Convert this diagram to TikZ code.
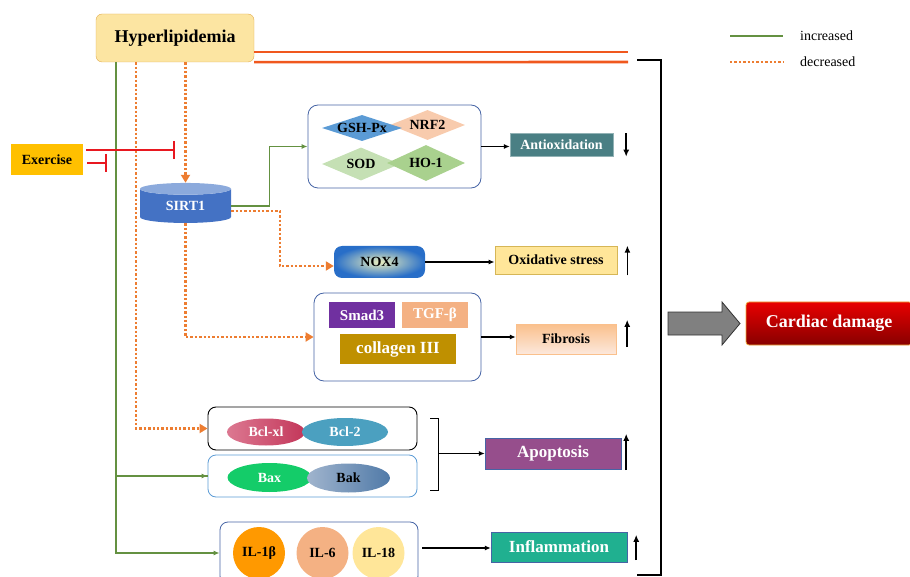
\documentclass[tikz,border=0pt]{standalone}
\usepackage{fontspec}
\setmainfont{Liberation Serif}
\usetikzlibrary{arrows.meta,shapes.geometric,calc,positioning}
\definecolor{incgreen}{RGB}{100,145,65}
\definecolor{decorange}{RGB}{237,125,49}
\definecolor{hyperfill}{RGB}{252,229,162}
\definecolor{hyperdraw}{RGB}{226,172,80}
\definecolor{hyperline}{RGB}{240,88,30}
\definecolor{exgold}{RGB}{255,192,0}
\definecolor{inhred}{RGB}{232,24,32}
\definecolor{sirtblue}{RGB}{68,114,196}
\definecolor{sirttop}{RGB}{140,170,220}
\definecolor{groupblue}{RGB}{70,100,165}
\definecolor{gshblue}{RGB}{91,155,213}
\definecolor{nrfpeach}{RGB}{248,203,173}
\definecolor{sodgreen}{RGB}{197,224,180}
\definecolor{hogreen}{RGB}{169,209,142}
\definecolor{antiteal}{RGB}{74,127,132}
\definecolor{oxyellow}{RGB}{255,230,153}
\definecolor{oxdraw}{RGB}{214,182,86}
\definecolor{smadpurple}{RGB}{112,48,160}
\definecolor{tgfpeach}{RGB}{244,177,131}
\definecolor{colgold}{RGB}{191,144,0}
\definecolor{fibtop}{RGB}{250,192,140}
\definecolor{fibbot}{RGB}{252,232,220}
\definecolor{bclpink}{RGB}{220,120,145}
\definecolor{bclred}{RGB}{195,55,90}
\definecolor{bcltwo}{RGB}{75,160,192}
\definecolor{baxgreen}{RGB}{20,204,105}
\definecolor{bakleft}{RGB}{160,180,205}
\definecolor{bakright}{RGB}{80,122,168}
\definecolor{apopurple}{RGB}{150,78,140}
\definecolor{ilorange}{RGB}{255,153,0}
\definecolor{ilsix}{RGB}{244,177,131}
\definecolor{ileighteen}{RGB}{255,230,153}
\definecolor{inflteal}{RGB}{32,176,144}
\definecolor{cardtop}{RGB}{232,0,0}
\definecolor{cardbot}{RGB}{135,0,0}
\definecolor{carddraw}{RGB}{240,170,60}
\definecolor{blockgray}{RGB}{128,128,128}

\begin{document}
\begin{tikzpicture}[x=1pt,y=-1pt,
  every node/.style={font=\fontsize{14}{16}\selectfont\bfseries,inner sep=0pt},
  inc/.style={draw=incgreen,line width=1.3pt},
  dec/.style={draw=decorange,line width=2.4pt,dash pattern=on 2.4pt off 2pt},
  inctip/.style={-{Latex[length=6pt,width=5pt]}},
  dectip/.style={-{Triangle[length=8pt,width=9pt]}},
  inh/.style={draw=inhred,line width=2.6pt,-{Bar[width=18pt]}},
  res/.style={draw=black,line width=1.2pt,-{Latex[length=6pt,width=5pt]}},
  ind/.style={draw=black,line width=1.5pt,-{Latex[length=7pt,width=6pt]}},
  group/.style={draw=groupblue,line width=0.8pt,rounded corners=10pt},
  diam/.style={diamond,minimum width=80pt,minimum height=28pt},
  oval/.style={ellipse,minimum width=84pt,minimum height=28pt},
  ilcirc/.style={circle,minimum size=52pt},
  bigtext/.style={font=\fontsize{17}{19}\selectfont\bfseries}]
\useasboundingbox (0,0) rectangle (910,577);

% top of the pathway
\node[draw=hyperdraw,fill=hyperfill,minimum width=158pt,minimum height=48pt,rounded corners=6pt,font=\fontsize{18}{20}\selectfont\bfseries] (hyper) at (175,38) {Hyperlipidemia};
\node[fill=exgold,minimum width=72pt,minimum height=31pt] (ex) at (47,159.5) {Exercise};
\node[cylinder,shape border rotate=90,aspect=0.3,minimum width=91pt,minimum height=40pt,cylinder uses custom fill,cylinder body fill=sirtblue,cylinder end fill=sirttop,text=white] (sirt) at (185.5,206) {SIRT1};

% antioxidation
\node[group,minimum width=173pt,minimum height=83pt] (gshbox) at (394.5,146.5) {};
\node[diam,fill=nrfpeach,minimum width=75pt,minimum height=30pt,label=center:NRF2] (nrf) at (427.5,125) {};
\node[diam,fill=gshblue,minimum height=26pt,label=center:GSH-Px] (gsh) at (362,128) {};
\node[diam,fill=sodgreen,minimum width=78pt,minimum height=33pt,label=center:SOD] (sod) at (361,164) {};
\node[diam,fill=hogreen,minimum width=78pt,minimum height=36pt,label=center:HO-1] (ho) at (426,163) {};
\node[fill=antiteal,draw=antiteal!60,text=white,minimum width=103pt,minimum height=23pt] (anti) at (561.5,145) {Antioxidation};

% oxidative stress
\node[draw=none,rounded corners=8pt,inner color={rgb,255:red,235;green,240;blue,190},outer color={rgb,255:red,40;green,110;blue,200},minimum width=91pt,minimum height=32pt] (nox) at (379.5,262) {NOX4};
\node[fill=oxyellow,draw=oxdraw,line width=0.8pt,minimum width=122pt,minimum height=28pt] (ox) at (556,260) {Oxidative stress};

% fibrosis
\node[group,minimum width=167pt,minimum height=88pt] (fibbox) at (397.5,337) {};
\node[fill=smadpurple,text=white,minimum width=66pt,minimum height=26pt,font=\fontsize{15}{17}\selectfont\bfseries] (smad) at (362,315) {Smad3};
\node[fill=tgfpeach,text=white,minimum width=66pt,minimum height=26pt,font=\fontsize{15}{17}\selectfont\bfseries] (tgf) at (435,315) {TGF-β};
\node[fill=colgold,text=white,minimum width=116pt,minimum height=30pt,bigtext] (col) at (398,349) {collagen III};
\node[top color=fibtop,bottom color=fibbot,draw=fibtop,minimum width=100pt,minimum height=30pt] (fib) at (566,339) {Fibrosis};

% apoptosis
\node[draw=black,line width=0.9pt,rounded corners=8pt,minimum width=209pt,minimum height=43pt] (bclbox) at (312.5,428.5) {};
\node[group,draw=gshblue,rounded corners=8pt,minimum width=209pt,minimum height=42pt] (baxbox) at (312.5,476) {};
\node[oval,left color=bclpink,right color=bclred,minimum width=78pt,minimum height=27pt,text=white] (bclxl) at (266,432) {Bcl-xl};
\node[oval,fill=bcltwo,minimum width=86pt,text=white] (bcltwo) at (345,432) {Bcl-2};
\node[oval,fill=baxgreen,minimum height=29pt,text=white] (bax) at (269.5,477.5) {Bax};
\node[oval,left color=bakleft,right color=bakright,minimum width=83pt,minimum height=29pt] (bak) at (348.5,478) {Bak};
\node[fill=apopurple,draw=groupblue,text=white,minimum width=136pt,minimum height=31pt,bigtext] (apo) at (553,453.5) {Apoptosis};

% inflammation
\node[group,rounded corners=8pt,minimum width=198pt,minimum height=62pt] (ilbox) at (319,553) {};
\node[ilcirc,fill=ilorange] (ilone) at (259,553) {IL-1β};
\node[ilcirc,fill=ilsix] (ilsix) at (322.5,553) {IL-6};
\node[ilcirc,fill=ileighteen] (ileight) at (378.5,553) {IL-18};
\node[fill=inflteal,draw=groupblue,text=white,minimum width=136pt,minimum height=30pt,bigtext] (infl) at (559,547) {Inflammation};

% outcome
\node[top color=cardtop,bottom color=cardbot,draw=carddraw,line width=0.8pt,rounded corners=3pt,text=white,minimum width=166pt,minimum height=43pt,font=\fontsize{18}{20}\selectfont\bfseries] (card) at (829,323.5) {Cardiac damage};
\fill[blockgray,draw=gray!40!black,line width=0.8pt] (668,312) -- (722,312) -- (722,302) -- (740,323.5) -- (722,345) -- (722,335) -- (668,335) -- cycle;

% legend
\coordinate (legA) at (730,36); \coordinate (legB) at (783,36); \coordinate (legC) at (730,62); \coordinate (legD) at (783,62);
\draw[inc] (legA) -- (legB); \draw[dec] (legC) -- (legD);
\node[font=\fontsize{14}{16}\selectfont,anchor=west] (incr) at (800,36) {increased};
\node[font=\fontsize{14}{16}\selectfont,anchor=west] (decr) at (800,62) {decreased};

% hyperlipidemia lines
\coordinate (trunk) at (116,0); \coordinate (dtrunk) at (136,0);
\coordinate (topend) at (628,52); \coordinate (lowend) at (628,62);
\draw[draw=hyperline,line width=2.6pt] (hyper.east |- topend) -- (topend);
\draw[draw=hyperline,line width=2.6pt] (hyper.south east) -- (lowend);
\draw[inc] (hyper.south -| trunk) |- (baxbox.west); \draw[inc,inctip] (trunk |- baxbox.west) -- (baxbox.west);
\draw[inc,inctip] (hyper.south -| trunk) |- (ilbox.west);
\draw[dec,dectip] (hyper.south -| dtrunk) |- (bclbox.west);
\draw[dec,dectip] (hyper.south -| sirt.north) -- (sirt.north);
\draw[inh] ($(ex.east)+(3,-9.5)$) -- ++(89,0) coordinate (inhsirt);
\draw[inh] ($(ex.east)+(4,3.5)$) -- ++(20,0) coordinate (inhtrunk);

% SIRT1 targets
\draw[inc,inctip] (sirt.east) -| ($(gshbox.west)+(-38,0)$) -- (gshbox.west);
\draw[dec,dectip] ($(sirt.east)+(0,5)$) -| ($(nox.west)+(-54,4)$) -- ($(nox.west)+(0,4)$);
\draw[dec,dectip] (sirt.south) |- (fibbox.west);

% results
\draw[res] (gshbox.east) -- (gshbox.east -| anti.west);
\draw[res] (nox.east) -- (nox.east -| ox.west);
\draw[res] (fibbox.east) -- (fibbox.east -| fib.west);
\draw[line width=1.2pt] ($(bclbox.east)+(13,-10)$) -- ++(8,0) -- ++(0,72) -- ++(-8,0);
\draw[res] (apo.west -| 438,0) -- (apo.west);
\coordinate (ilout) at ($(ilbox.east)+(4,-5)$);
\draw[res] (ilout) -- (ilout -| infl.west);
\draw[ind] ([xshift=13pt]anti.north east) -- ([xshift=13pt]anti.south east);
\draw[ind] ([xshift=10pt,yshift=-1pt]ox.south east) -- ([xshift=10pt]ox.north east);
\draw[ind] ([xshift=11pt,yshift=7pt]fib.south east) -- ([xshift=11pt,yshift=4pt]fib.north east);
\draw[ind] ([xshift=5pt,yshift=-1pt]apo.south east) -- ([xshift=5pt,yshift=4pt]apo.north east);
\draw[ind] ([xshift=9pt,yshift=2pt]infl.south east) -- ([xshift=9pt,yshift=-3pt]infl.north east);

% bracket to cardiac damage
\draw[line width=2.5pt] (637,60) -- (661,60) -- (661,575) -- (637,575);
\end{tikzpicture}
\end{document}
